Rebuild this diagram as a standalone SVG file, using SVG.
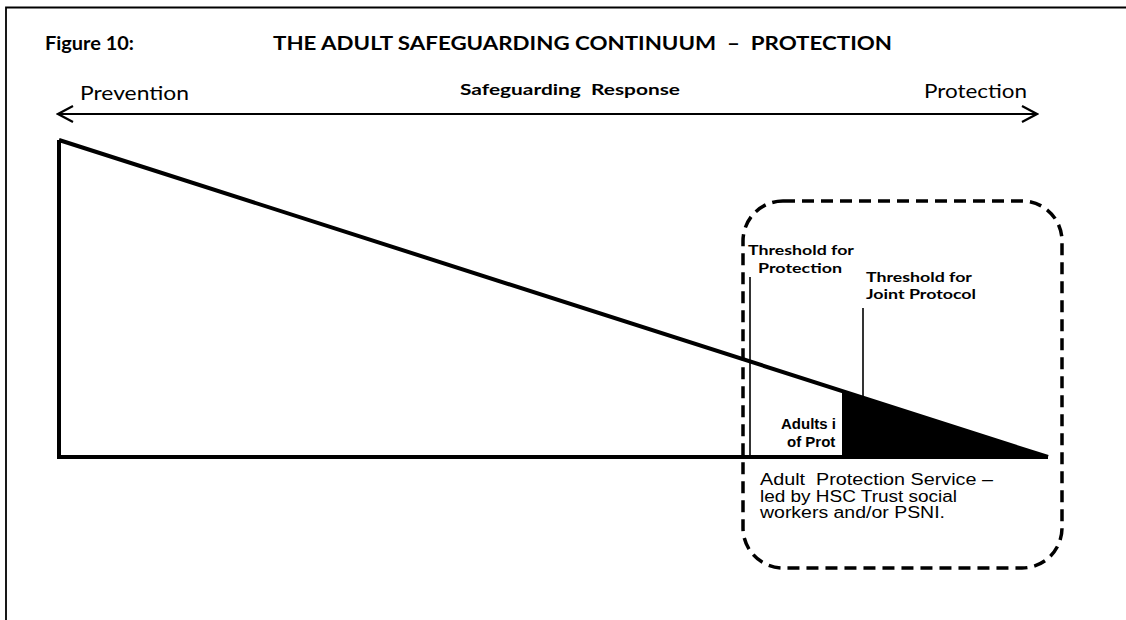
<svg xmlns="http://www.w3.org/2000/svg" width="1126" height="620" viewBox="0 0 1126 620">
<style>
.cal{font-family:Lato,"Open Sans","Liberation Sans",sans-serif;fill:#000;white-space:pre}
.ar{font-family:"Liberation Sans",Arial,sans-serif;fill:#000;white-space:pre}
.b{font-weight:bold}
.thin{stroke:#000;stroke-width:1.6;fill:none}
</style>
<defs>
<marker id="chev" viewBox="0 0 18 18" refX="16" refY="9" markerWidth="18" markerHeight="18" markerUnits="userSpaceOnUse" orient="auto-start-reverse">
<path d="M1,1 L16,9 L1,17" fill="none" stroke="#000" stroke-width="2.2"/>
</marker>
</defs>
<rect width="1126" height="620" fill="#fff"/>
<g id="frame">
<path d="M6,640 L6,7.5 L1130,7.5" fill="none" stroke="#000" stroke-width="1.8"/>
</g>
<g id="title">
<text class="cal b" x="45" y="50" font-size="18" textLength="89" lengthAdjust="spacingAndGlyphs">Figure 10:</text>
<text class="cal b" x="273" y="50" font-size="19" textLength="619" lengthAdjust="spacingAndGlyphs">THE ADULT SAFEGUARDING CONTINUUM  –  PROTECTION</text>
</g>
<g id="continuum-axis">
<text class="cal" x="80" y="100" font-size="20" textLength="109" lengthAdjust="spacingAndGlyphs">Prevention</text>
<text class="cal b" x="460" y="95" font-size="16" textLength="220" lengthAdjust="spacingAndGlyphs">Safeguarding  Response</text>
<text class="cal" x="924" y="98" font-size="20" textLength="103" lengthAdjust="spacingAndGlyphs">Protection</text>
</g>
<g id="connectors">
<line x1="58" y1="114" x2="1037" y2="114" stroke="#000" stroke-width="2" marker-start="url(#chev)" marker-end="url(#chev)"/>
<line class="thin" x1="750" y1="277" x2="750" y2="457"/>
<line class="thin" x1="863" y1="308" x2="863" y2="400"/>
</g>
<g id="adults-in-need-label">
<text class="ar b" x="781" y="429" font-size="15">Adults i</text>
<text class="ar b" x="787" y="447" font-size="15">of Prot</text>
</g>
<g id="triangle">
<polygon points="842,391 1048,457 842,457" fill="#000"/>
<path d="M59,140 L59,457 L1048,457 M59,140 L1048,457" fill="none" stroke="#000" stroke-width="4" stroke-linejoin="miter"/>
</g>
<g id="protection-zone">
<rect x="743" y="201" width="319" height="367" rx="40" ry="40" fill="none" stroke="#000" stroke-width="3.5" stroke-dasharray="12 7"/>
<text class="cal b" x="748" y="255" font-size="14" textLength="106" lengthAdjust="spacingAndGlyphs">Threshold for</text>
<text class="cal b" x="758" y="273" font-size="14" textLength="84" lengthAdjust="spacingAndGlyphs">Protection</text>
<text class="cal b" x="866" y="282" font-size="14" textLength="106" lengthAdjust="spacingAndGlyphs">Threshold for</text>
<text class="cal b" x="866" y="299" font-size="14" textLength="110" lengthAdjust="spacingAndGlyphs">Joint Protocol</text>
<text class="ar" x="760" y="485" font-size="16" textLength="233" lengthAdjust="spacingAndGlyphs">Adult  Protection Service –</text>
<text class="ar" x="760" y="502" font-size="16" textLength="197" lengthAdjust="spacingAndGlyphs">led by HSC Trust social</text>
<text class="ar" x="760" y="518" font-size="16" textLength="185" lengthAdjust="spacingAndGlyphs">workers and/or PSNI.</text>
</g>
</svg>
